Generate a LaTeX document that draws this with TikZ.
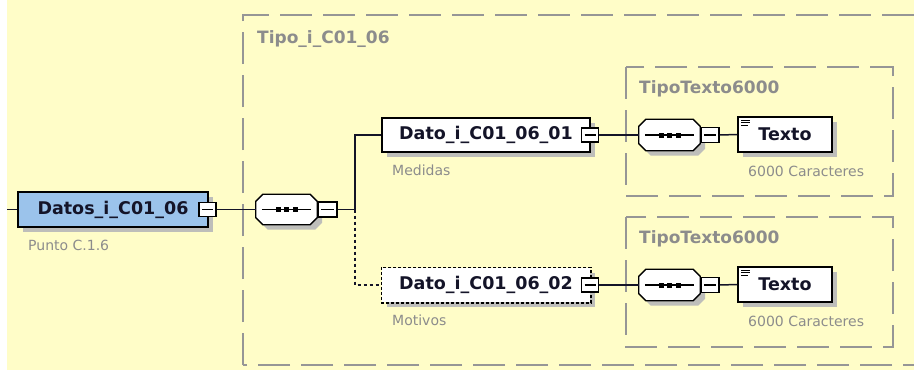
\documentclass[tikz,border=0pt]{standalone}
\usepackage{fontspec}
\setmainfont{DejaVu Sans}
\usetikzlibrary{calc}
\definecolor{bgyellow}{RGB}{255,253,200}
\definecolor{boxblue}{RGB}{155,195,235}
\definecolor{shade}{RGB}{190,190,186}
\definecolor{framegray}{RGB}{150,150,150}
\definecolor{labelgray}{RGB}{140,140,140}
\definecolor{ink}{RGB}{20,20,40}
\tikzset{
  shadowed/.style={preaction={fill=shade, transform canvas={xshift=5pt,yshift=-5pt}}},
  elembox/.style={draw=black, line width=1.5pt, fill=white, shadowed, inner sep=0pt,
     text=ink, font=\fontsize{17.5}{20}\selectfont\bfseries},
  minusbox/.style={draw=black, line width=1.3pt, fill=white, inner sep=0pt,
     minimum width=17, minimum height=14,
     path picture={\draw[line width=1.3pt] ([xshift=3pt]path picture bounding box.west) -- ([xshift=-3pt]path picture bounding box.east);}},
  seqbox/.style={inner sep=0pt, minimum width=61, minimum height=30},
  octo/.style={draw=black, line width=1.3pt, fill=white, shadowed},
  conn/.style={draw=ink, line width=1.5pt},
  optconn/.style={draw=ink, line width=1.5pt, dash pattern=on 3pt off 3pt},
  frame/.style={draw=framegray, line width=1.5pt, dash pattern=on 32pt off 11pt},
  title/.style={text=labelgray, anchor=base west, inner sep=0pt, font=\fontsize{17}{19}\selectfont\bfseries},
  note/.style={text=labelgray, anchor=base west, inner sep=0pt, font=\fontsize{14}{16}\selectfont},
}
\newcommand\seqdraw[1]{%
  \path[octo] ($(#1.north west)+(7,0)$) -- ($(#1.north east)+(-7,0)$) -- ($(#1.north east)+(0,7)$)
     -- ($(#1.south east)+(0,-7)$) -- ($(#1.south east)+(-7,0)$) -- ($(#1.south west)+(7,0)$)
     -- ($(#1.south west)+(0,-7)$) -- ($(#1.north west)+(0,7)$) -- cycle;
  \draw[line width=1.3pt] ($(#1.west)+(6,0)$) -- ($(#1.east)+(-6,0)$);
  \foreach \dx in {-8.5,0,8.5} {\fill ($(#1.center)+(\dx-2.5,-2.5)$) rectangle +(5,5);}
}
\newcommand\textoicon[1]{%
  \draw[line width=0.9pt] ($(#1.north west)+(4,4)$) -- +(9,0);
  \draw[line width=0.9pt] ($(#1.north west)+(4,6.5)$) -- +(9,0);
  \draw[line width=0.9pt] ($(#1.north west)+(4,9)$) -- +(7,0);
}
\begin{document}
\begin{tikzpicture}[x=1pt,y=-1pt]
\useasboundingbox (0,0) rectangle (914,370);
\clip (0,0) rectangle (914,370);
\fill[white] (0,0) rectangle (914,370);
\fill[bgyellow] (7,0) rectangle (914,370);

% frames
\draw[frame] (243,365) -- (243,15) -- (935,15);
\draw[frame] (935,365) -- (243,365);
\draw[frame] (626,67) rectangle (893,196);
\draw[frame] (626,217) rectangle (893,347);

\node[title] (t0) at (257,43) {Tipo\_i\_C01\_06};
\node[title] (t1) at (639,93) {TipoTexto6000};
\node[title] (t2) at (639,243) {TipoTexto6000};

% nodes
\node[elembox, fill=boxblue, minimum width=190, minimum height=35] (datos) at (113,209.5) {Datos\_i\_C01\_06};
\node[minusbox] (datosm) at (207.5,209.5) {};
\node[note] (n0) at (28,250) {Punto C.1.6};

\node[seqbox] (seq1) at (286.5,209.5) {};
\seqdraw{seq1}
\node[minusbox, minimum width=19, minimum height=15] (seq1m) at (327.5,209.5) {};

\coordinate (j) at (355,209.5);
\coordinate (lstart) at (7,209.5);

\node[elembox, minimum width=208, minimum height=34] (d1) at (486,135) {Dato\_i\_C01\_06\_01};
\node[minusbox] (d1m) at (590,135) {};
\node[note] (n1) at (392,175) {Medidas};

\node[elembox, draw=none, minimum width=208, minimum height=34] (d2) at (486,285) {Dato\_i\_C01\_06\_02};
\draw[line width=1.5pt, dash pattern=on 3pt off 2pt] (d2.north west) rectangle (d2.south east);
\node[minusbox] (d2m) at (590,285) {};
\node[note] (n2) at (392,325) {Motivos};

\node[seqbox, minimum height=31] (seq2) at (669.5,135) {};
\seqdraw{seq2}
\node[minusbox, minimum width=18, minimum height=15] (seq2m) at (710,135) {};
\node[elembox, minimum width=94, minimum height=35] (tx1) at (785,134.5) {Texto};
\textoicon{tx1}
\node[note] (c1) at (748,176) {6000 Caracteres};

\node[seqbox, minimum height=31] (seq3) at (669.5,285) {};
\seqdraw{seq3}
\node[minusbox, minimum width=18, minimum height=15] (seq3m) at (710,285) {};
\node[elembox, minimum width=94, minimum height=35] (tx2) at (785,284.5) {Texto};
\textoicon{tx2}
\node[note] (c2) at (748,326) {6000 Caracteres};

% connectors
\draw[conn] (lstart) -- (datos.west);
\draw[conn] (datosm.east) -- (seq1.west);
\draw[conn] (seq1m.east) -- (j);
\draw[conn] (j) |- (d1.west);
\draw[optconn] (j) |- (d2.west);
\draw[conn] (d1m.east) -- (seq2.west);
\draw[conn] (seq2m.east) -- (tx1.west);
\draw[conn] (d2m.east) -- (seq3.west);
\draw[conn] (seq3m.east) -- (tx2.west);
\end{tikzpicture}
\end{document}
